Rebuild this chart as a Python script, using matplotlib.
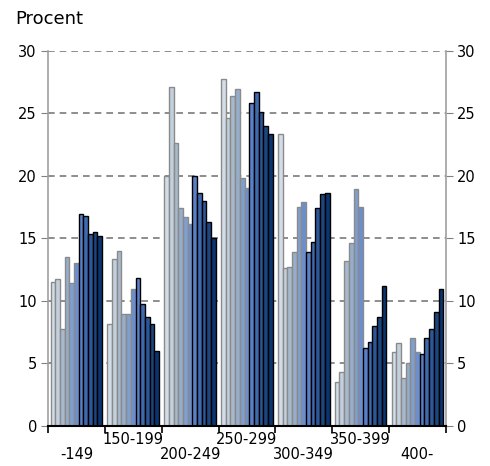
import matplotlib
matplotlib.use("Agg")
import matplotlib.pyplot as plt
import numpy as np

categories = ["-149", "150-199", "200-249", "250-299", "300-349", "350-399", "400-"]

# 11 series (bars per category), values in percent, read per category
values_by_category = [
    [11.5, 11.7, 7.7, 13.5, 11.4, 13.0, 16.9, 16.8, 15.3, 15.5, 15.2],
    [8.1, 13.3, 14.0, 8.9, 8.9, 10.9, 11.8, 9.7, 8.7, 8.1, 6.0],
    [20.0, 27.1, 22.6, 17.4, 16.7, 16.1, 20.0, 18.6, 18.0, 16.3, 15.0],
    [27.7, 24.6, 26.4, 26.9, 19.8, 19.0, 25.8, 26.7, 25.1, 24.0, 23.3],
    [23.3, 12.6, 12.7, 13.9, 17.5, 17.9, 13.9, 14.7, 17.4, 18.5, 18.6],
    [3.5, 4.3, 13.2, 14.6, 18.9, 17.5, 6.2, 6.7, 8.0, 8.7, 11.2],
    [5.9, 6.6, 3.8, 5.0, 7.0, 5.9, 5.7, 7.0, 7.7, 9.1, 10.9],
]

bar_colors = ["#d3dde8", "#c2d0de", "#a7b9cd", "#97aecb", "#7f9fd0", "#6a8fd0",
              "#5a80c8", "#3f6aae", "#2c5798", "#1d467f", "#0b3570"]
edge_colors = ["#8a8a8a"] * 6 + ["#000000"] * 5

yticks = [0, 5, 10, 15, 20, 25, 30]

fig = plt.figure(figsize=(4.9, 4.66), dpi=100)
ax = fig.add_axes([0.098, 0.0865, 0.812, 0.805])

n_series = len(bar_colors)
bw = 0.0825
offset0 = 0.045
for s in range(n_series):
    xs = [i + offset0 + s * bw for i in range(len(categories))]
    hs = [values_by_category[i][s] for i in range(len(categories))]
    ax.bar(xs, hs, width=bw, align="edge", color=bar_colors[s],
           edgecolor=edge_colors[s], linewidth=1.0, zorder=3)

ax.set_xlim(0, len(categories))
ax.set_ylim(0, 30)

for y in yticks[1:]:
    ax.axhline(y, color="#7a7a7a", linestyle=(0, (4, 3)), linewidth=1.2, zorder=1)

ax.set_yticks(yticks)
ax.tick_params(axis="y", which="both", left=True, right=True, labelleft=True,
               labelright=True, direction="out", length=5, color="#808080",
               labelsize=10.5, pad=3)
ax.set_xticks(range(len(categories) + 1))
ax.set_xticklabels([])
ax.tick_params(axis="x", direction="out", length=5, color="black", width=1.2)

for sp in ["left", "right"]:
    ax.spines[sp].set_color("#a0a0a0")
    ax.spines[sp].set_linewidth(1.2)
ax.spines["top"].set_visible(False)
ax.spines["bottom"].set_color("black")
ax.spines["bottom"].set_linewidth(1.5)
ax.spines["bottom"].set_zorder(5)

for i, lab in enumerate(categories):
    yoff = -0.016 if i % 2 == 1 else -0.056
    ax.text(i + 0.5, yoff, lab, transform=ax.get_xaxis_transform(),
            ha="center", va="top", fontsize=10.5)

fig.text(15 / 490, 1 - 19.5 / 466, "Procent", ha="left", va="center", fontsize=13)

fig.savefig("out.png", dpi=100)
